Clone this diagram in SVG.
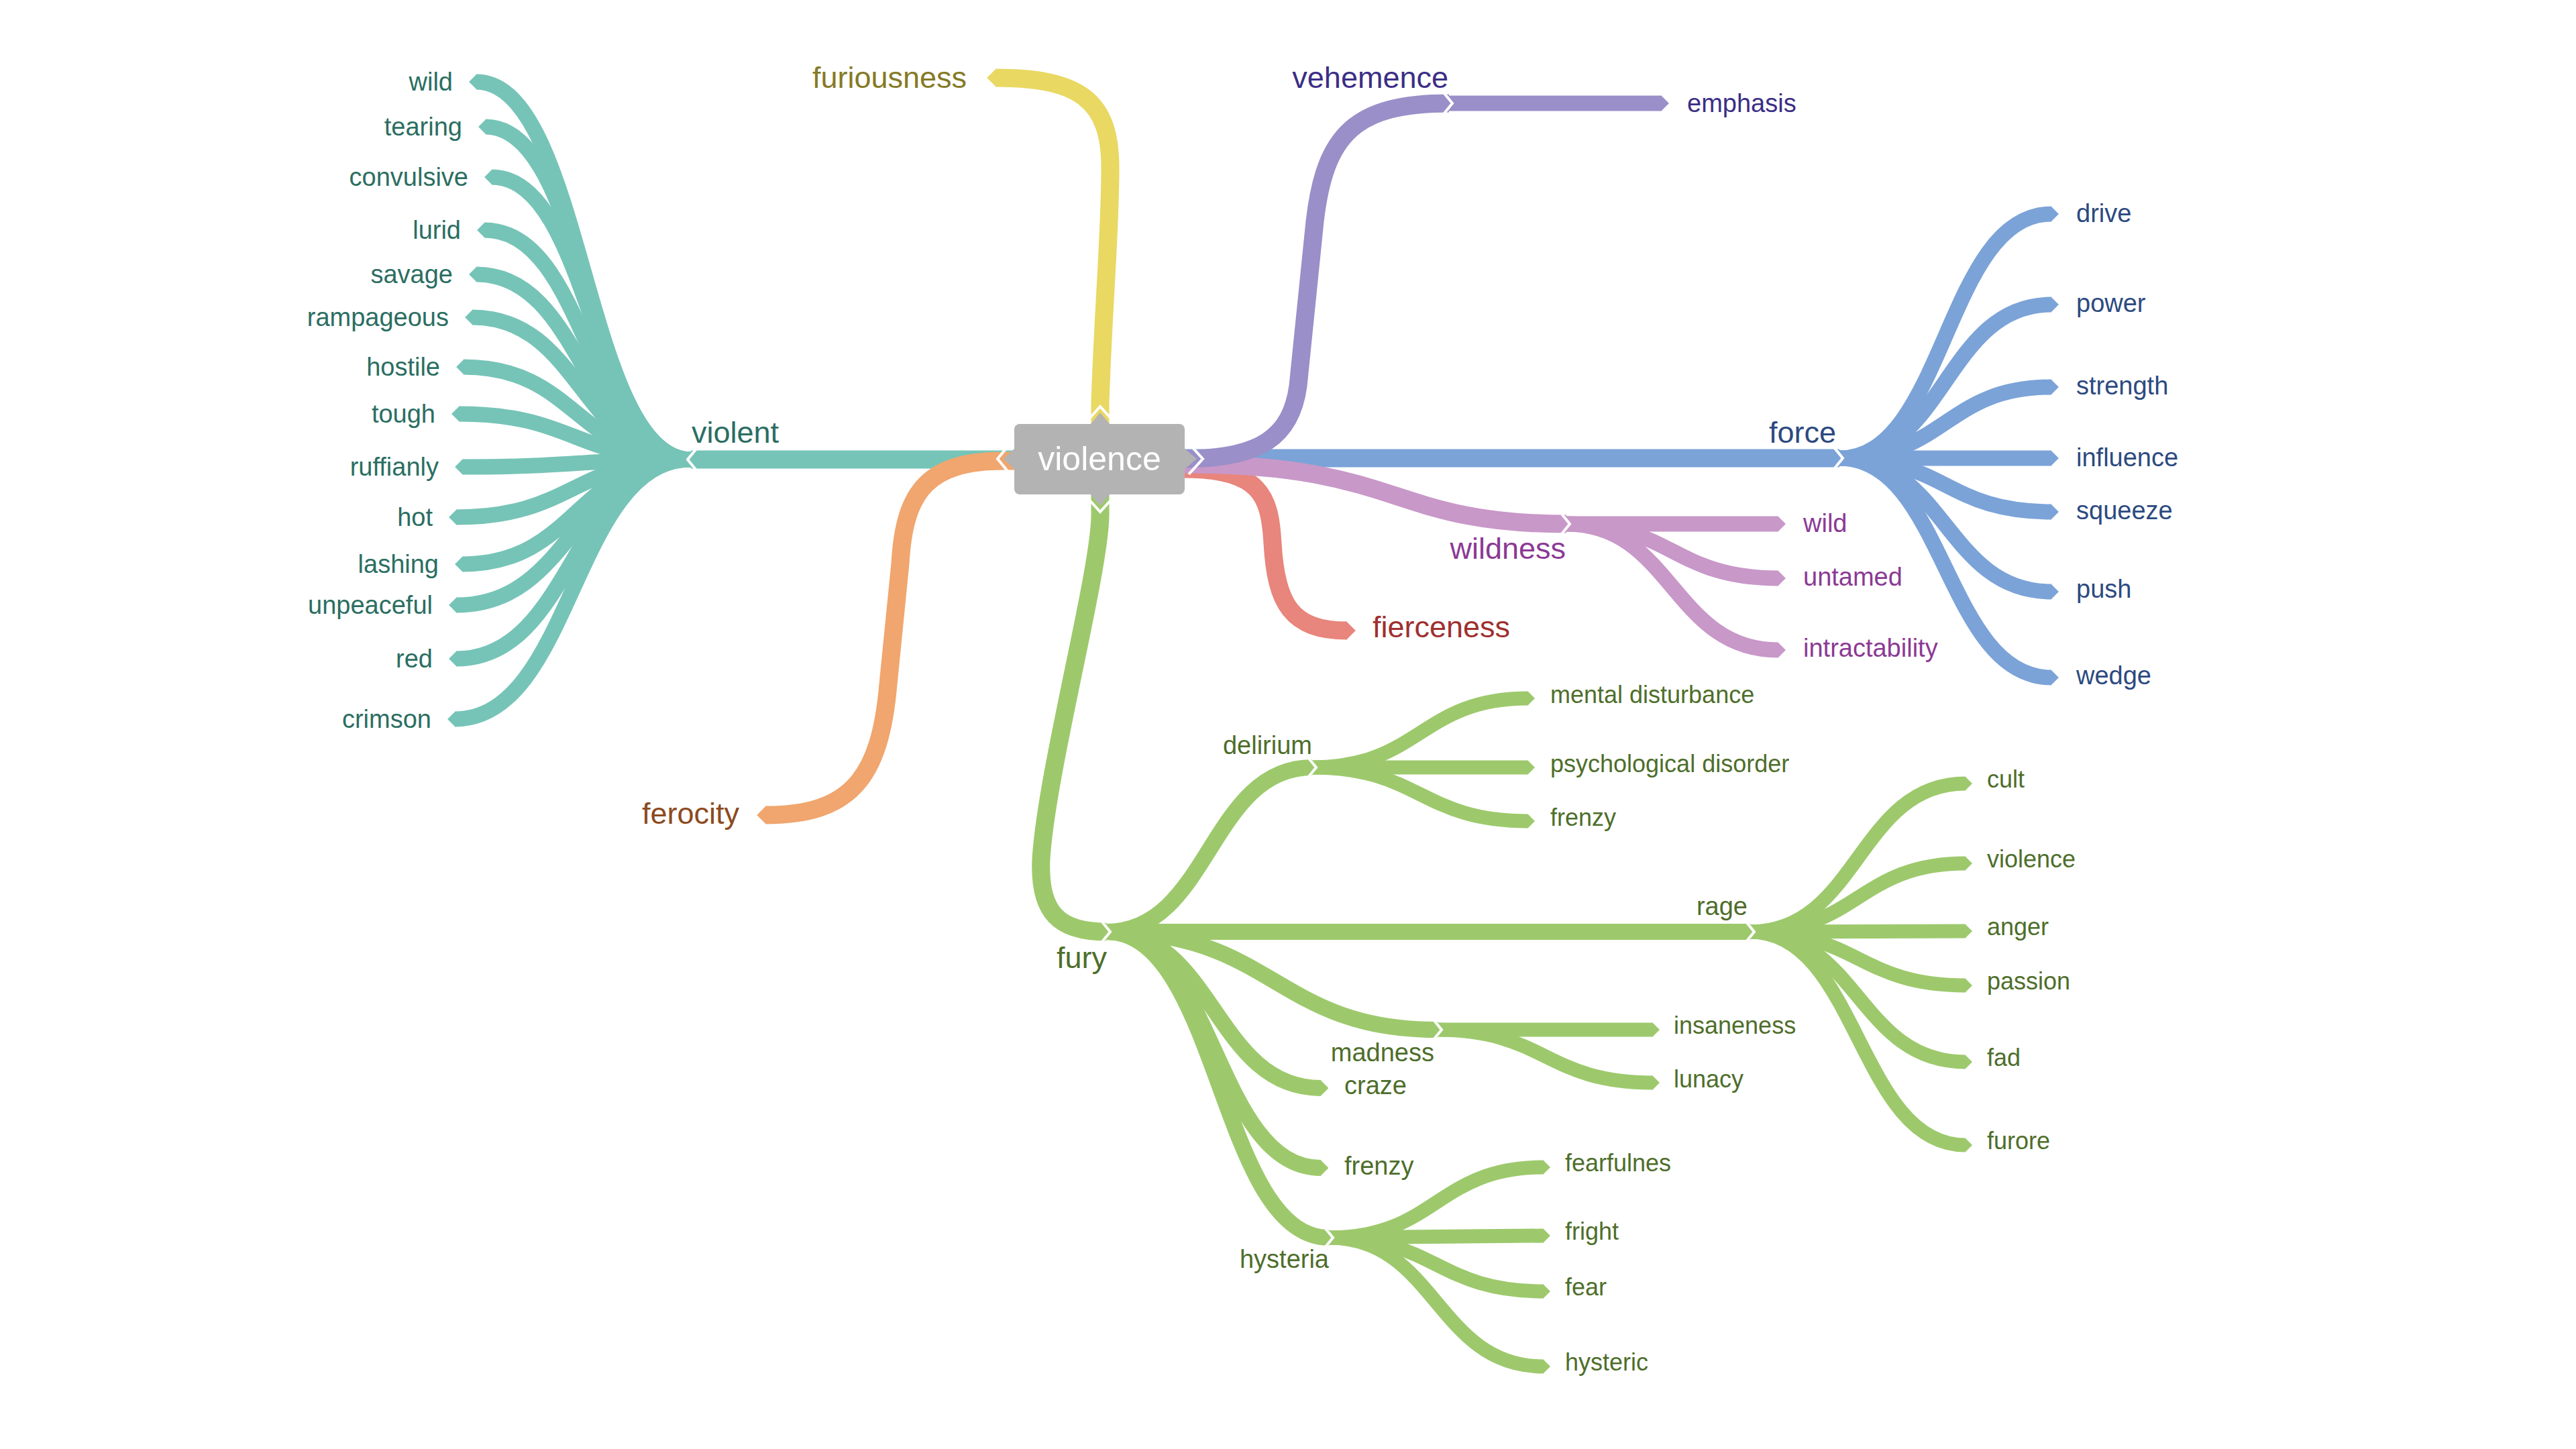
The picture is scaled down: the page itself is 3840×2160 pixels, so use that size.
<svg xmlns="http://www.w3.org/2000/svg" width="3840" height="2160" viewBox="0 0 3840 2160">
<style>
text{font-family:"Liberation Sans",Arial,sans-serif}
.br{fill:none;stroke-linecap:butt;stroke-linejoin:round}
.teal{stroke:#76c4b7}.yel{stroke:#e9d862}.pur{stroke:#9a8fc8}.blu{stroke:#7ba3d8}
.pnk{stroke:#c898c8}.red{stroke:#e8857c}.org{stroke:#f0a66e}.grn{stroke:#9dc96c}
.w1{stroke-width:27}.w2{stroke-width:23}.wg2{stroke-width:24}.wg3{stroke-width:21}
.chev{fill:none;stroke:#fff;stroke-width:4}
.l1{font-size:45px}.lf{font-size:38px}.l3{font-size:36px}
.tTeal{fill:#2b6e62}.tYel{fill:#857a26}.tPur{fill:#3b2e86}.tBlu{fill:#2c4a80}
.tPnk{fill:#8b3a94}.tRed{fill:#9e3030}.tOrg{fill:#8c4a1f}.tGrn{fill:#4e6e2b}
</style>
<defs>
<marker id="mTeal" viewBox="0 0 10 20" refX="0.5" refY="10" markerWidth="0.5" markerHeight="1" markerUnits="strokeWidth" orient="auto"><path d="M0,0 L10,10 L0,20 z" fill="#76c4b7"/></marker>
<marker id="mYel" viewBox="0 0 10 20" refX="0.5" refY="10" markerWidth="0.5" markerHeight="1" markerUnits="strokeWidth" orient="auto"><path d="M0,0 L10,10 L0,20 z" fill="#e9d862"/></marker>
<marker id="mPur" viewBox="0 0 10 20" refX="0.5" refY="10" markerWidth="0.5" markerHeight="1" markerUnits="strokeWidth" orient="auto"><path d="M0,0 L10,10 L0,20 z" fill="#9a8fc8"/></marker>
<marker id="mBlu" viewBox="0 0 10 20" refX="0.5" refY="10" markerWidth="0.5" markerHeight="1" markerUnits="strokeWidth" orient="auto"><path d="M0,0 L10,10 L0,20 z" fill="#7ba3d8"/></marker>
<marker id="mPnk" viewBox="0 0 10 20" refX="0.5" refY="10" markerWidth="0.5" markerHeight="1" markerUnits="strokeWidth" orient="auto"><path d="M0,0 L10,10 L0,20 z" fill="#c898c8"/></marker>
<marker id="mRed" viewBox="0 0 10 20" refX="0.5" refY="10" markerWidth="0.5" markerHeight="1" markerUnits="strokeWidth" orient="auto"><path d="M0,0 L10,10 L0,20 z" fill="#e8857c"/></marker>
<marker id="mOrg" viewBox="0 0 10 20" refX="0.5" refY="10" markerWidth="0.5" markerHeight="1" markerUnits="strokeWidth" orient="auto"><path d="M0,0 L10,10 L0,20 z" fill="#f0a66e"/></marker>
<marker id="mGrn" viewBox="0 0 10 20" refX="0.5" refY="10" markerWidth="0.5" markerHeight="1" markerUnits="strokeWidth" orient="auto"><path d="M0,0 L10,10 L0,20 z" fill="#9dc96c"/></marker>
</defs>
<rect width="3840" height="2160" fill="#fff"/>
<g id="connectors">
<path class="br teal w1" d="M1520,685 L1030,685"/>
<g class="br teal w2" marker-end="url(#mTeal)">
<path d="M1030,685 C870,685 870,122 710,122"/>
<path d="M1030,685 C877,685 877,189 724,189"/>
<path d="M1030,685 C882,685 882,264 733,264"/>
<path d="M1030,685 C876,685 876,343 722,343"/>
<path d="M1030,685 C870,685 870,409 710,409"/>
<path d="M1030,685 C867,685 867,473 704,473"/>
<path d="M1030,685 C860,685 860,547 691,547"/>
<path d="M1030,685 C857,685 857,617 684,617"/>
<path d="M1030,685 C860,685 860,696 689,696"/>
<path d="M1030,685 C855,685 855,771 680,771"/>
<path d="M1030,685 C860,685 860,841 689,841"/>
<path d="M1030,685 C855,685 855,902 680,902"/>
<path d="M1030,685 C855,685 855,982 680,982"/>
<path d="M1030,685 C854,685 854,1072 678,1072"/>
</g>
<path class="br org w1" marker-end="url(#mOrg)" d="M1520,687 L1497,687 C1385,687 1348,730 1342,840 L1324,1020 C1312,1160 1268,1215 1141,1215"/>
<path class="br yel w1" marker-end="url(#mYel)" d="M1640,640 L1640,600 C1645,450 1655,350 1655,250 C1655,150 1610,116 1484,116"/>
<path class="br blu w1" d="M1760,683 L2742,683"/>
<g class="br blu w2" marker-end="url(#mBlu)">
<path d="M2742,683 C2900,683 2900,319 3058,319"/>
<path d="M2742,683 C2900,683 2900,454 3058,454"/>
<path d="M2742,683 C2900,683 2900,577 3058,577"/>
<path d="M2742,683 L3058,683"/>
<path d="M2742,683 C2900,683 2900,763 3058,763"/>
<path d="M2742,683 C2900,683 2900,882 3058,882"/>
<path d="M2742,683 C2900,683 2900,1010 3058,1010"/>
</g>
<path class="br red w1" marker-end="url(#mRed)" d="M1765,699 C1880,699 1893,740 1897,810 C1902,900 1925,940 2008,940"/>
<path class="br pnk w1" d="M1765,692 C2090,692 2070,781 2335,781"/>
<g class="br pnk w2" marker-end="url(#mPnk)">
<path d="M2335,781 L2651,781"/>
<path d="M2335,781 C2493,781 2493,862 2651,862"/>
<path d="M2335,781 C2493,781 2493,969 2651,969"/>
</g>
<path class="br pur w1" d="M1765,684 C1880,684 1925,650 1935,575 L1960,330 C1975,200 2020,154 2160,154"/>
<path class="br pur w2" marker-end="url(#mPur)" d="M2160,154 L2477,154"/>
<path class="br grn w1" d="M1640,730 L1640,770 C1638,860 1560,1150 1552,1280 C1548,1362 1580,1389 1649,1389"/>
<g class="br grn wg2">
<path d="M1649,1389 C1803,1389 1803,1144 1956,1144"/>
<path d="M1649,1389 L2609,1389"/>
<path d="M1649,1389 C1900,1389 1900,1535 2143,1535"/>
<path d="M1649,1389 C1818,1389 1818,1845 1981,1845"/>
<path marker-end="url(#mGrn)" d="M1649,1389 C1810,1389 1810,1622 1969,1622"/>
<path marker-end="url(#mGrn)" d="M1649,1389 C1810,1389 1810,1741 1969,1741"/>
</g>
<g class="br grn wg3" marker-end="url(#mGrn)">
<path d="M1956,1144 C2117,1144 2117,1041 2278,1041"/>
<path d="M1956,1144 L2278,1144"/>
<path d="M1956,1144 C2117,1144 2117,1224 2278,1224"/>
<path d="M2143,1535 L2464,1535"/>
<path d="M2143,1535 C2303,1535 2303,1614 2464,1614"/>
<path d="M2609,1389 C2770,1389 2770,1168 2930,1168"/>
<path d="M2609,1389 C2770,1389 2770,1287 2930,1287"/>
<path d="M2609,1389 L2930,1388"/>
<path d="M2609,1389 C2770,1389 2770,1469 2930,1469"/>
<path d="M2609,1389 C2770,1389 2770,1583 2930,1583"/>
<path d="M2609,1389 C2770,1389 2770,1707 2930,1707"/>
<path d="M1981,1845 C2141,1845 2141,1740 2301,1740"/>
<path d="M1981,1845 L2301,1842"/>
<path d="M1981,1845 C2141,1845 2141,1925 2301,1925"/>
<path d="M1981,1845 C2141,1845 2141,2037 2301,2037"/>
</g>
<polyline class="chev" points="1038,669 1025,685 1038,701"/>
<polyline class="chev" points="2734,667 2747,683 2734,699"/>
<polyline class="chev" points="2327,765 2340,781 2327,797"/>
<polyline class="chev" points="2152,138 2165,154 2152,170"/>
<polyline class="chev" points="1642,1373 1655,1389 1642,1405"/>
<polyline class="chev" points="1949,1128 1962,1144 1949,1160"/>
<polyline class="chev" points="2602,1373 2615,1389 2602,1405"/>
<polyline class="chev" points="2136,1519 2149,1535 2136,1551"/>
<polyline class="chev" points="1974,1829 1987,1845 1974,1861"/>
</g>
<g id="node-violence">
<polyline class="chev" points="1506,661 1487,684 1506,707"/>
<polyline class="chev" points="1772,661 1793,684 1772,707"/>
<polyline class="chev" points="1621,627 1640,606 1659,627"/>
<polyline class="chev" points="1621,742 1640,763 1659,742"/>
<rect x="1512" y="632" width="254" height="105" rx="8" fill="#b3b3b3"/>
<polygon points="1513,668 1496,684 1513,700" fill="#b3b3b3"/>
<polygon points="1765,668 1784,684 1765,700" fill="#b3b3b3"/>
<polygon points="1625,633 1640,615 1655,633" fill="#b3b3b3"/>
<polygon points="1625,736 1640,754 1655,736" fill="#b3b3b3"/>
<text x="1639" y="701" font-size="50" fill="#fff" text-anchor="middle">violence</text>
</g>
<g id="node-violent"><text class="l1 tTeal" x="1031" y="660">violent</text></g>
<g id="leaves-violent" class="lf tTeal" text-anchor="end">
<text x="675" y="135">wild</text>
<text x="689" y="202">tearing</text>
<text x="698" y="277">convulsive</text>
<text x="687" y="356">lurid</text>
<text x="675" y="422">savage</text>
<text x="669" y="486">rampageous</text>
<text x="656" y="560">hostile</text>
<text x="649" y="630">tough</text>
<text x="654" y="709">ruffianly</text>
<text x="645" y="784">hot</text>
<text x="654" y="854">lashing</text>
<text x="645" y="915">unpeaceful</text>
<text x="645" y="995">red</text>
<text x="643" y="1085">crimson</text>
</g>
<g id="node-furiousness"><text class="l1 tYel" x="1441" y="131" text-anchor="end">furiousness</text></g>
<g id="node-ferocity"><text class="l1 tOrg" x="1102" y="1228" text-anchor="end">ferocity</text></g>
<g id="node-vehemence"><text class="l1 tPur" x="2159" y="131" text-anchor="end">vehemence</text></g>
<g id="node-emphasis"><text class="lf tPur" x="2515" y="167">emphasis</text></g>
<g id="node-force"><text class="l1 tBlu" x="2737" y="660" text-anchor="end">force</text></g>
<g id="leaves-force" class="lf tBlu">
<text x="3095" y="331">drive</text>
<text x="3095" y="465">power</text>
<text x="3095" y="588">strength</text>
<text x="3095" y="695">influence</text>
<text x="3095" y="774">squeeze</text>
<text x="3095" y="891">push</text>
<text x="3095" y="1020">wedge</text>
</g>
<g id="node-wildness"><text class="l1 tPnk" x="2334" y="833" text-anchor="end">wildness</text></g>
<g id="leaves-wildness" class="lf tPnk">
<text x="2688" y="793">wild</text>
<text x="2688" y="873">untamed</text>
<text x="2688" y="979">intractability</text>
</g>
<g id="node-fierceness"><text class="l1 tRed" x="2046" y="950">fierceness</text></g>
<g id="node-fury"><text class="l1 tGrn" x="1575" y="1443">fury</text></g>
<g id="node-delirium"><text class="lf tGrn" x="1956" y="1124" text-anchor="end">delirium</text></g>
<g id="node-rage"><text class="lf tGrn" x="2605" y="1364" text-anchor="end">rage</text></g>
<g id="node-madness"><text class="lf tGrn" x="2138" y="1582" text-anchor="end">madness</text></g>
<g id="node-craze"><text class="lf tGrn" x="2004" y="1631">craze</text></g>
<g id="node-frenzy"><text class="lf tGrn" x="2004" y="1751">frenzy</text></g>
<g id="node-hysteria"><text class="lf tGrn" x="1981" y="1890" text-anchor="end">hysteria</text></g>
<g id="leaves-delirium" class="l3 tGrn">
<text x="2311" y="1048">mental disturbance</text>
<text x="2311" y="1151">psychological disorder</text>
<text x="2311" y="1231">frenzy</text>
</g>
<g id="leaves-madness" class="l3 tGrn">
<text x="2495" y="1541">insaneness</text>
<text x="2495" y="1621">lunacy</text>
</g>
<g id="leaves-rage" class="l3 tGrn">
<text x="2962" y="1174">cult</text>
<text x="2962" y="1293">violence</text>
<text x="2962" y="1394">anger</text>
<text x="2962" y="1475">passion</text>
<text x="2962" y="1589">fad</text>
<text x="2962" y="1713">furore</text>
</g>
<g id="leaves-hysteria" class="l3 tGrn">
<text x="2333" y="1746">fearfulnes</text>
<text x="2333" y="1848">fright</text>
<text x="2333" y="1931">fear</text>
<text x="2333" y="2043">hysteric</text>
</g>
</svg>
